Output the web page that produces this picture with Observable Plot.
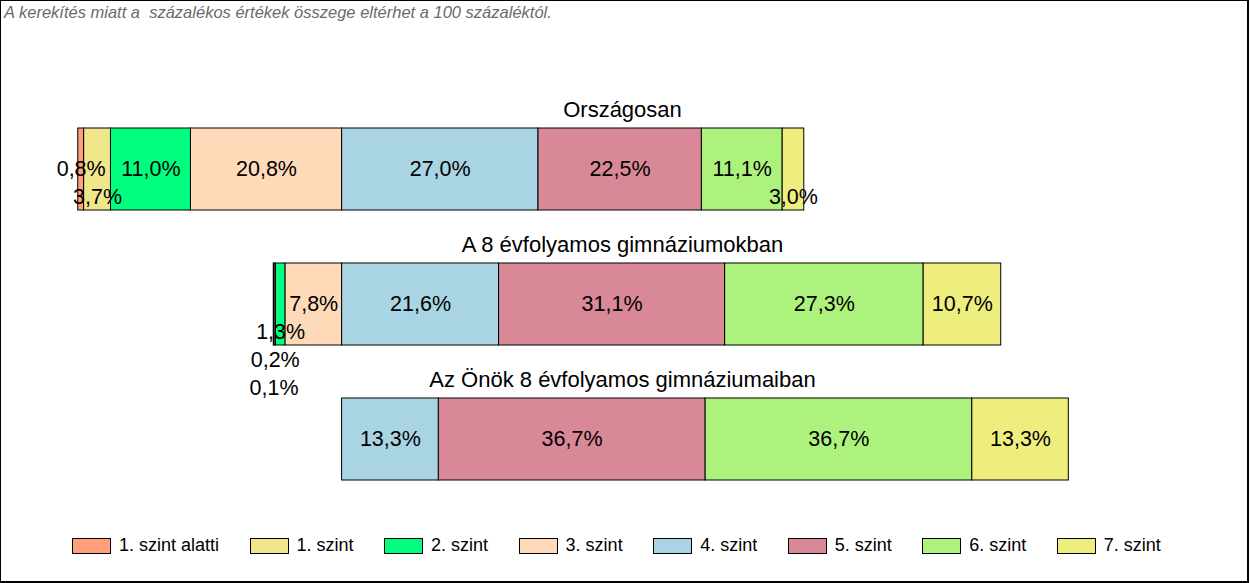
<!DOCTYPE html>
<html>
<head>
<meta charset="utf-8">
<script src="https://cdn.jsdelivr.net/npm/d3@7"></script>
<script src="https://cdn.jsdelivr.net/npm/@observablehq/plot@0.6"></script>
<style>
  html, body { margin: 0; padding: 0; background: #fff; }
  body { width: 1250px; height: 583px; position: relative; overflow: hidden; font-family: Arial, "Liberation Sans", sans-serif; }
  #frame { position: absolute; left: 0; top: 0; width: 1249px; height: 583px; box-sizing: border-box;
           border-top: 1px solid #000; border-left: 1px solid #000; border-right: 2px solid #000; border-bottom: 2px solid #000; }
  #note { position: absolute; left: 4px; top: 3px; font-style: italic; font-size: 16.5px; color: #6a6a6a; white-space: pre; }
  #chart { position: absolute; left: 0; top: 0; }
  #legend { position: absolute; left: 72px; top: 535px; display: flex; align-items: center; }
  .item { display: flex; align-items: center; margin-right: 30.5px; font-size: 18px; color: #000; }
  .sw { width: 37px; height: 14px; border: 1px solid #000; margin-right: 8px; }
</style>
</head>
<body>
<div id="frame"></div>
<div id="note">A kerekítés miatt a  százalékos értékek összege eltérhet a 100 százaléktól.</div>
<div id="chart"></div>
<div id="legend"></div>
<script>
// ---- data ----
const rows = ["Országosan", "A 8 évfolyamos gimnáziumokban", "Az Önök 8 évfolyamos gimnáziumaiban"];
const levels = ["1. szint alatti", "1. szint", "2. szint", "3. szint", "4. szint", "5. szint", "6. szint", "7. szint"];
const levelColors = ["#FFA07A", "#F0E68C", "#00FF7F", "#FFDAB9", "#A9D4E4", "#D98898", "#ADF27C", "#EEEE7E"];
const orszagosan = [0.8, 3.7, 11.0, 20.8, 27.0, 22.5, 11.1, 3.0];
const gimnaziumok = [0.1, 0.2, 1.3, 7.8, 21.6, 31.1, 27.3, 10.7];
const onok = [0, 0, 0, 0, 13.3, 36.7, 36.7, 13.3];
const rowValues = [orszagosan, gimnaziumok, onok];

// ---- layout settings ----
const W = 1250, H = 520;
const xDomain = [-47, 125];
const pxPerUnit = W / (xDomain[1] - xDomain[0]);
const labelFont = 21.5, titleFont = 22, levelStep = 28;

const fmt = v => v.toFixed(1).replace(".", ",") + "%";
const textW = s => labelFont * (s.replace(/[^0-9]/g, "").length * 0.556 + 1.167);

// diverging stack: levels 1-4 (indices 0..3) to the left of 0
const segs = [];
rowValues.forEach((vals, r) => {
  let start = -d3.sum(vals.slice(0, 4));
  const rowSegs = [];
  vals.forEach((v, i) => {
    const s = {row: rows[r], level: levels[i], value: v, x1: start, x2: start + v, label: fmt(v)};
    start += v;
    if (v > 0) rowSegs.push(s);
  });
  // label level assignment (avoid overlaps), right to left
  const placed = [];
  for (let k = rowSegs.length - 1; k >= 0; k--) {
    const s = rowSegs[k];
    const cx = (s.x1 + s.x2) / 2 * pxPerUnit;
    const w = textW(s.label);
    const fits = s.value * pxPerUnit >= w + 4;
    const cands = fits ? [0, 1, 2, 3, 4, 5] : [1, 0, 2, 3, 4, 5];
    for (const lv of cands) {
      const hit = placed.some(p => p.lv === lv && Math.abs(p.cx - cx) < (p.w + w) / 2);
      if (!hit) { s.lv = lv; placed.push({lv, cx, w}); break; }
    }
    segs.push(s);
  }
});

const plot = Plot.plot({
  width: W, height: H,
  marginLeft: 0, marginRight: 0, marginTop: 0, marginBottom: 0,
  style: {fontFamily: "Arial, 'Liberation Sans', sans-serif", background: "transparent", color: "#000"},
  x: {domain: xDomain, axis: null},
  y: {domain: rows, range: [128, 480], paddingInner: 0.393, paddingOuter: 0, axis: null},
  color: {domain: levels, range: levelColors},
  marks: [
    Plot.barX(segs, {x1: "x1", x2: "x2", y: "row", fill: "level", stroke: "#000", strokeWidth: 1}),
    ...[0, 1, 2, 3, 4, 5].map(lv => Plot.text(segs.filter(s => s.lv === lv), {
      x: d => (d.x1 + d.x2) / 2, y: "row", text: "label", fontSize: labelFont, fill: "#000", dy: lv * levelStep
    })),
    Plot.text(rows, {y: d => d, text: d => d, fontSize: titleFont, fill: "#000", dy: -59.5, dx: -3})
  ]
});
document.getElementById("chart").appendChild(plot);

// legend
const lg = document.getElementById("legend");
levels.forEach((l, i) => {
  const it = document.createElement("div");
  it.className = "item";
  const sw = document.createElement("div");
  sw.className = "sw";
  sw.style.background = levelColors[i];
  const tx = document.createElement("span");
  tx.textContent = l;
  it.appendChild(sw); it.appendChild(tx);
  lg.appendChild(it);
});
</script>
</body>
</html>
